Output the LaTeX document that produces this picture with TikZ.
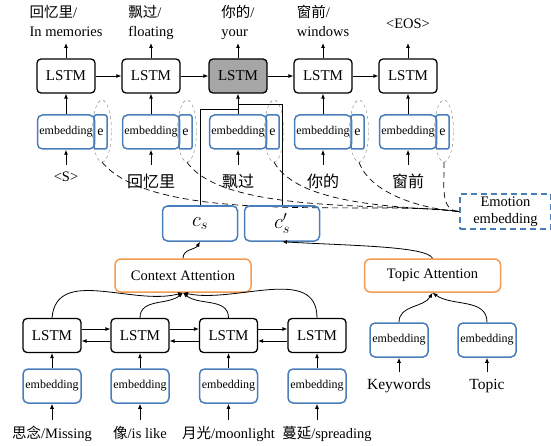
\documentclass[tikz,border=0pt]{standalone}
\usepackage{fontspec}
\setmainfont{Liberation Serif}
\newfontfamily\zhfont{Noto Sans CJK SC}
\usetikzlibrary{positioning,shapes.geometric,arrows.meta}
\definecolor{embblue}{RGB}{74,126,187}
\definecolor{attorange}{RGB}{244,155,80}
\definecolor{cellgray}{RGB}{166,166,166}

\begin{document}
\begin{tikzpicture}[x=1pt,y=1pt,>={Latex[length=5pt,width=4pt]},
  lstm/.style={draw,line width=1.3pt,rounded corners=4pt,minimum width=58pt,minimum height=34pt,inner sep=0pt,font=\fontsize{15}{18}\selectfont},
  emb/.style={draw=embblue,line width=1.5pt,rounded corners=5pt,minimum width=57pt,minimum height=34pt,inner sep=0pt,font=\fontsize{12}{14}\selectfont},
  ebox/.style={draw=embblue,line width=1.5pt,rounded corners=2pt,minimum width=13pt,minimum height=34pt,inner sep=0pt,font=\fontsize{14}{16}\selectfont},
  halo/.style={draw=gray,dashed,thin,ellipse,minimum width=19pt,minimum height=62pt,inner sep=0pt},
  cbox/.style={draw=embblue,line width=1.5pt,rounded corners=5pt,minimum width=75pt,minimum height=35pt,font=\fontsize{20}{22}\selectfont},
  att/.style={draw=attorange,line width=1.5pt,rounded corners=6pt,minimum width=136pt,minimum height=33pt,font=\fontsize{14.5}{17}\selectfont},
  emo/.style={draw=embblue,line width=1.5pt,dash pattern=on 6pt off 4pt,minimum width=91pt,minimum height=35pt,inner sep=0pt,align=center,font=\fontsize{14.5}{17}\selectfont},
  emoline/.style={dash pattern=on 6pt off 4pt,line width=0.7pt},
  toplbl/.style={align=left,inner sep=1pt,text depth=3pt,font=\fontsize{14.5}{19}\selectfont},
  inlbl/.style={inner sep=1pt,font=\fontsize{14.5}{17}\selectfont},
  zhlbl/.style={inner sep=1pt,font=\fontsize{16}{18}\selectfont\zhfont},
  arr/.style={->,line width=0.8pt}]

\useasboundingbox (0,0) rectangle (551,445);

% decoder
\node[lstm] (l1) at (66,369) {LSTM};
\node[lstm] (l2) at (151,369) {LSTM};
\node[lstm,fill=cellgray] (l3) at (238,369) {LSTM};
\node[lstm] (l4) at (323,369) {LSTM};
\node[lstm] (l5) at (408,369) {LSTM};

\node[emb] (em1) at (66,313) {embedding};
\node[emb] (em2) at (151,313) {embedding};
\node[emb] (em3) at (238,313) {embedding};
\node[emb] (em4) at (323,313) {embedding};
\node[emb] (em5) at (408,313) {embedding};

\node[ebox] (e1) at (100.5,313) {e};
\node[ebox] (e2) at (185.5,313) {e};
\node[ebox] (e3) at (272.5,313) {e};
\node[ebox] (e4) at (357.5,313) {e};
\node[ebox] (e5) at (442.5,313) {e};

\node[halo] (h1) at (102,314) {};
\node[halo] (h2) at (187,314) {};
\node[halo] (h3) at (274,314) {};
\node[halo] (h4) at (359,314) {};
\node[halo] (h5) at (444,314) {};

\coordinate (out1) at (66,402);
\coordinate (out2) at (151,402);
\coordinate (out3) at (238,402);
\coordinate (out4) at (323,402);
\coordinate (out5) at (408,402);

\node[toplbl,above=2pt of out1] (o1) {{\zhfont 回忆里}/\\In memories};
\node[toplbl,above=2pt of out2] (o2) {{\zhfont 飘过}/\\floating};
\node[toplbl,above=2pt of out3] (o3) {{\zhfont 你的}/\\your};
\node[toplbl,above=2pt of out4] (o4) {{\zhfont 窗前}/\\windows};
\node[toplbl,above=10pt of out5] (o5) {<EOS>};

\coordinate (in1) at (66,280);
\coordinate (in2) at (151,280);
\coordinate (in3) at (238,280);
\coordinate (in4) at (323,280);
\coordinate (in5) at (408,280);

\node[inlbl,below=6pt of in1] (s1) {<S>};
\node[zhlbl,below=8pt of in2] (s2) {回忆里};
\node[zhlbl,below=8pt of in3] (s3) {飘过};
\node[zhlbl,below=8pt of in4] (s4) {你的};
\node[zhlbl,below=8pt of in5] (s5) {窗前};

\draw[arr] (l1) -- (l2);
\draw[arr] (l2) -- (l3);
\draw[arr] (l3) -- (l4);
\draw[arr] (l4) -- (l5);

\draw[arr] (em1) -- (l1);
\draw[arr] (em2) -- (l2);
\draw[arr] (em3) -- (l3);
\draw[arr] (em4) -- (l4);
\draw[arr] (em5) -- (l5);

\draw[arr] (l1) -- (out1);
\draw[arr] (l2) -- (out2);
\draw[arr] (l3) -- (out3);
\draw[arr] (l4) -- (out4);
\draw[arr] (l5) -- (out5);

\draw[arr] (in1) -- (em1);
\draw[arr] (in2) -- (em2);
\draw[arr] (in3) -- (em3);
\draw[arr] (in4) -- (em4);
\draw[arr] (in5) -- (em5);

% emotion
\node[emo] (emo) at (505.5,233.5) {Emotion\\embedding};
\draw[emoline] (h1.south) to[out=-50,in=172,looseness=0.6] (emo.west);
\draw[emoline] (h2.south) to[out=-55,in=172,looseness=0.6] (emo.west);
\draw[emoline] (h3.south) to[out=-60,in=174,looseness=0.7] (emo.west);
\draw[emoline] (h4.south) to[out=-70,in=176,looseness=0.8] (emo.west);
\draw[emoline] (h5.south) to[out=-88,in=180] (emo.west);

% context vectors
\node[cbox] (cs) at (200,221.5) {$c_s$};
\node[cbox] (csp) at (282,221.5) {$c_s'$};
\coordinate (j1) at (238,336);
\coordinate (j2) at (238,341);
\draw[line width=0.8pt] (cs.north) |- (j1);
\draw[line width=0.8pt] (csp.north) |- (j2);

% attention
\node[att] (ca) at (183,169.5) {Context Attention};
\node[att] (ta) at (432.5,169.5) {Topic Attention};
\draw[arr] (ca.north) to[out=90,in=-120] (cs.south);
\draw[arr] (ta.north) .. controls +(-6,12) and +(70,-4) .. (csp.south);

% encoder
\node[lstm] (bl1) at (52,109.5) {LSTM};
\node[lstm] (bl2) at (140,109.5) {LSTM};
\node[lstm] (bl3) at (228.5,109.5) {LSTM};
\node[lstm] (bl4) at (317,109.5) {LSTM};

\node[emb,minimum width=58pt] (be1) at (52,59) {embedding};
\node[emb,minimum width=58pt] (be2) at (140,59) {embedding};
\node[emb,minimum width=58pt] (be3) at (228.5,59) {embedding};
\node[emb,minimum width=58pt] (be4) at (317,59) {embedding};

\coordinate (bi1) at (52,25);
\coordinate (bi2) at (140,25);
\coordinate (bi3) at (228.5,25);
\coordinate (bi4) at (317,25);

\node[inlbl,below=5pt of bi1] (w1) {{\zhfont 思念}/Missing};
\node[inlbl,below=5pt of bi2] (w2) {{\zhfont 像}/is like};
\node[inlbl,below=5pt of bi3] (w3) {{\zhfont 月光}/moonlight};
\node[inlbl,below=5pt of bi4,xshift=10pt] (w4) {{\zhfont 蔓延}/spreading};

\draw[arr] (bi1) -- (be1);
\draw[arr] (bi2) -- (be2);
\draw[arr] (bi3) -- (be3);
\draw[arr] (bi4) -- (be4);

\draw[arr] (be1) -- (bl1);
\draw[arr] (be2) -- (bl2);
\draw[arr] (be3) -- (bl3);
\draw[arr] (be4) -- (bl4);

\draw[arr] ([yshift=6.5pt]bl1.east) -- ([yshift=6.5pt]bl2.west);
\draw[arr] ([yshift=6.5pt]bl2.east) -- ([yshift=6.5pt]bl3.west);
\draw[arr] ([yshift=6.5pt]bl3.east) -- ([yshift=6.5pt]bl4.west);
\draw[arr] ([yshift=-5.5pt]bl2.west) -- ([yshift=-5.5pt]bl1.east);
\draw[arr] ([yshift=-5.5pt]bl3.west) -- ([yshift=-5.5pt]bl2.east);
\draw[arr] ([yshift=-5.5pt]bl4.west) -- ([yshift=-5.5pt]bl3.east);

\draw[arr] (bl1.north) to[out=85,in=195] (ca.south);
\draw[arr] (bl2.north) to[out=90,in=-140] (ca.south);
\draw[arr] (bl3.north) to[out=90,in=-40] (ca.south);
\draw[arr] (bl4.north) to[out=90,in=-12] (ca.south);

% topic
\node[emb,minimum width=58pt] (te1) at (399,105) {embedding};
\node[emb,minimum width=58pt] (te2) at (487,105) {embedding};
\coordinate (ti1) at (399,73);
\coordinate (ti2) at (487,73);
\node[inlbl,below=6pt of ti1,font=\fontsize{15.5}{18}\selectfont] (k1) {Keywords};
\node[inlbl,below=6pt of ti2,font=\fontsize{15.5}{18}\selectfont] (k2) {Topic};
\draw[arr] (ti1) -- (te1);
\draw[arr] (ti2) -- (te2);
\draw[arr] (te1.north) to[out=90,in=-120] (ta.south);
\draw[arr] (te2.north) to[out=90,in=-35] (ta.south);
\end{tikzpicture}
\end{document}
